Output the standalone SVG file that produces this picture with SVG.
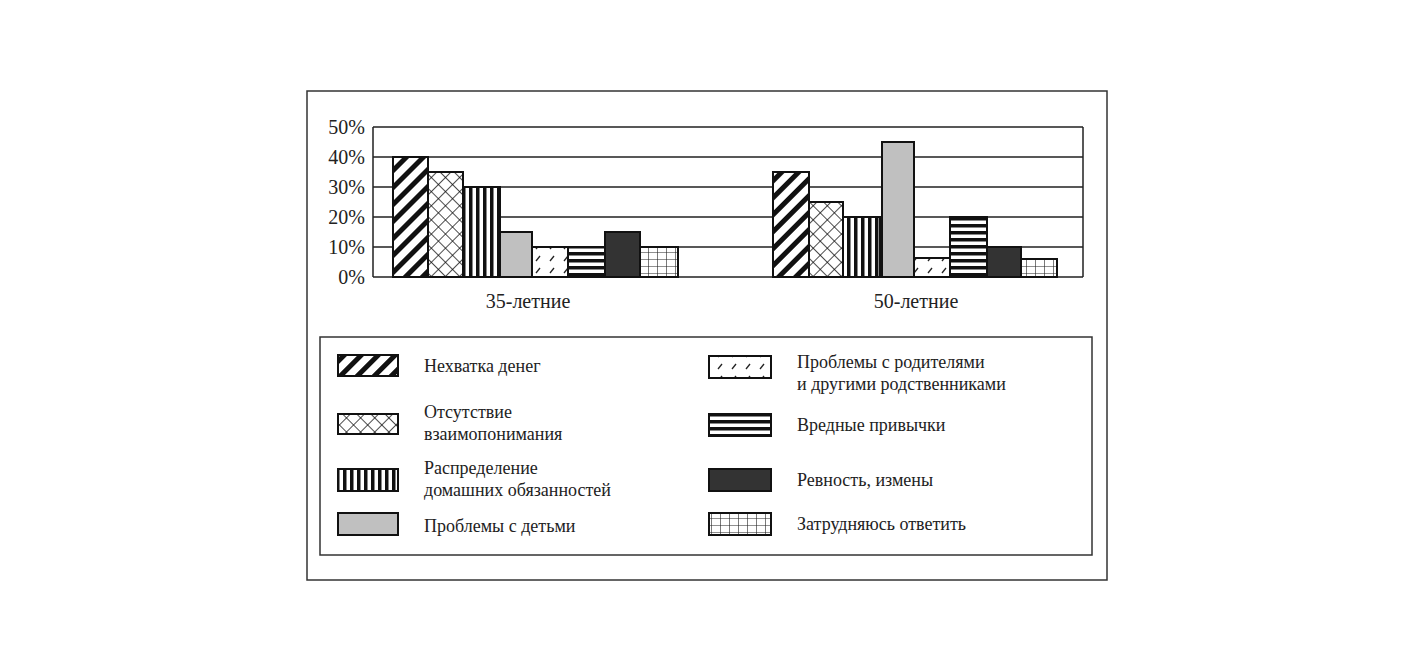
<svg xmlns="http://www.w3.org/2000/svg" width="1416" height="672" viewBox="0 0 1416 672">
<style>
text{font-family:"Liberation Serif","Times New Roman",serif;fill:#222}
.ax{font-size:20px}
.lg{font-size:18px}
.g{stroke:#222;stroke-width:1.5}
.b{stroke:#111;stroke-width:2}
</style>
<defs>
<pattern id="diag" width="12" height="12" patternUnits="userSpaceOnUse" patternTransform="rotate(45)"><rect width="12" height="12" fill="#fff"/><rect width="5" height="12" fill="#111"/></pattern>
<pattern id="cross" width="10" height="10" patternUnits="userSpaceOnUse" patternTransform="rotate(45)"><rect width="10" height="10" fill="#fff"/><path d="M0 0H10M0 0V10" stroke="#111" stroke-width="1.5"/></pattern>
<pattern id="vert" width="7" height="10" patternUnits="userSpaceOnUse"><rect width="7" height="10" fill="#fff"/><rect width="3.5" height="10" fill="#111"/></pattern>
<pattern id="horiz" width="10" height="7" patternUnits="userSpaceOnUse"><rect width="10" height="7" fill="#fff"/><rect width="10" height="3.5" fill="#111"/></pattern>
<pattern id="dash" width="14" height="12" patternUnits="userSpaceOnUse"><rect width="14" height="12" fill="#fff"/><path d="M4 9L8 4" stroke="#222" stroke-width="1.3"/></pattern>
<pattern id="grid" width="9" height="7" patternUnits="userSpaceOnUse"><rect width="9" height="7" fill="#fff"/><path d="M0 0H9M0 0V7" stroke="#222" stroke-width="1.2"/></pattern>
</defs>
<rect x="0" y="0" width="1416" height="672" fill="#fff"/>
<rect x="307" y="91" width="800" height="489" fill="#fff" stroke="#333" stroke-width="1.5"/>
<g id="axes">
<path class="g" d="M373 127H1083M373 157H1083M373 187H1083M373 217H1083M373 247H1083M373 277H1083M373 127V277M1083 127V277" fill="none"/>
<text class="ax" x="365" y="134" text-anchor="end">50%</text>
<text class="ax" x="365" y="164" text-anchor="end">40%</text>
<text class="ax" x="365" y="194" text-anchor="end">30%</text>
<text class="ax" x="365" y="224" text-anchor="end">20%</text>
<text class="ax" x="365" y="254" text-anchor="end">10%</text>
<text class="ax" x="365" y="284" text-anchor="end">0%</text>
<text class="ax" x="528" y="308" text-anchor="middle">35-летние</text>
<text class="ax" x="916" y="308" text-anchor="middle">50-летние</text>
</g>
<g id="bars35">
<rect class="b" x="393" y="157" width="35" height="120" fill="url(#diag)"/>
<rect class="b" x="428" y="172" width="35" height="105" fill="url(#cross)"/>
<rect class="b" x="463" y="187" width="37" height="90" fill="url(#vert)"/>
<rect class="b" x="500" y="232" width="32" height="45" fill="#c0c0c0"/>
<rect class="b" x="532" y="247" width="36" height="30" fill="url(#dash)"/>
<rect class="b" x="568" y="247" width="37" height="30" fill="url(#horiz)"/>
<rect class="b" x="605" y="232" width="35" height="45" fill="#333"/>
<rect class="b" x="640" y="247" width="38" height="30" fill="url(#grid)"/>
</g>
<g id="bars50">
<rect class="b" x="773" y="172" width="36" height="105" fill="url(#diag)"/>
<rect class="b" x="809" y="202" width="34" height="75" fill="url(#cross)"/>
<rect class="b" x="843" y="217" width="37" height="60" fill="url(#vert)"/>
<rect class="b" x="882" y="142" width="32" height="135" fill="#c0c0c0"/>
<rect class="b" x="914" y="258" width="36" height="19" fill="url(#dash)"/>
<rect class="b" x="950" y="217" width="37" height="60" fill="url(#horiz)"/>
<rect class="b" x="987" y="247" width="34" height="30" fill="#333"/>
<rect class="b" x="1021" y="259" width="36" height="18" fill="url(#grid)"/>
</g>
<g id="legend">
<rect x="320" y="337" width="772" height="218" fill="#fff" stroke="#333" stroke-width="1.5"/>
<rect class="b" x="338" y="355" width="60" height="21" fill="url(#diag)"/>
<rect class="b" x="338" y="414" width="60" height="20" fill="url(#cross)"/>
<rect class="b" x="338" y="469" width="60" height="22" fill="url(#vert)"/>
<rect class="b" x="338" y="513" width="60" height="22" fill="#c0c0c0"/>
<rect class="b" x="709" y="356" width="62" height="22" fill="url(#dash)"/>
<rect class="b" x="709" y="414" width="62" height="22" fill="url(#horiz)"/>
<rect class="b" x="709" y="469" width="62" height="22" fill="#333"/>
<rect class="b" x="709" y="513" width="62" height="22" fill="url(#grid)"/>
<text class="lg" x="424" y="372">Нехватка денег</text>
<text class="lg" x="424" y="418">Отсутствие</text>
<text class="lg" x="424" y="440">взаимопонимания</text>
<text class="lg" x="424" y="474">Распределение</text>
<text class="lg" x="424" y="496">домашних обязанностей</text>
<text class="lg" x="424" y="532">Проблемы с детьми</text>
<text class="lg" x="797" y="368">Проблемы с родителями</text>
<text class="lg" x="797" y="390">и другими родственниками</text>
<text class="lg" x="797" y="431">Вредные привычки</text>
<text class="lg" x="797" y="486">Ревность, измены</text>
<text class="lg" x="797" y="530">Затрудняюсь ответить</text>
</g>
</svg>
